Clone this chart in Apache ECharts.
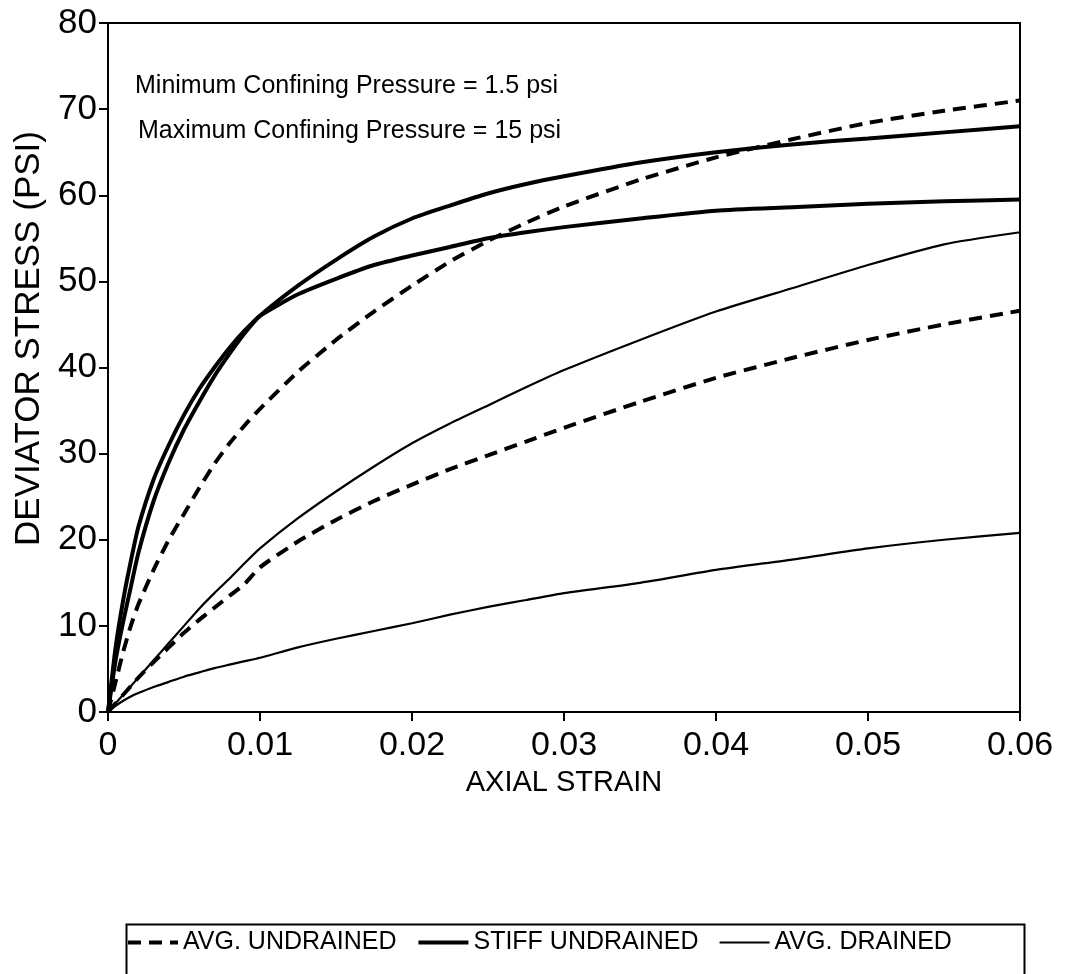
<!DOCTYPE html>
<html>
<head>
<meta charset="utf-8">
<script src="https://cdn.jsdelivr.net/npm/echarts@6/dist/echarts.min.js"></script>
<style>
  html, body { margin: 0; padding: 0; background: #fff; }
  #chart { width: 1067px; height: 974px; }
</style>
</head>
<body>
<div id="chart"></div>
<script>
// axial strain, shared by every curve
var strain = [0, 0.0005, 0.001, 0.0015, 0.002, 0.003, 0.004, 0.005, 0.006, 0.007, 0.008, 0.009, 0.01,
  0.0125, 0.015, 0.0175, 0.02, 0.0225, 0.025, 0.0275, 0.03, 0.035, 0.04, 0.045, 0.05, 0.055, 0.06];

// deviator stress (psi)
var avgUndrainedHigh = [0, 3.5, 7, 10, 12.5, 16.5, 20, 23, 26, 28.8, 31.2, 33.3, 35.2,
  39.5, 43.2, 46.5, 49.5, 52.3, 54.7, 56.8, 58.7, 61.8, 64.4, 66.5, 68.4, 69.8, 71];
var avgUndrainedLow = [0, 1, 2, 3, 4, 5.8, 7.5, 9.2, 10.7, 12.1, 13.5, 14.9, 16.8,
  19.8, 22.3, 24.5, 26.4, 28.2, 29.8, 31.4, 33, 36, 38.8, 41.1, 43.2, 45, 46.6];
var stiffUndrainedA = [0, 7.5, 13, 17.5, 21.5, 27, 31, 34.5, 37.5, 40, 42.3, 44.3, 46,
  48.5, 50.3, 51.9, 53, 54, 55, 55.7, 56.3, 57.3, 58.2, 58.6, 59, 59.3, 59.5];
var stiffUndrainedB = [0, 6, 10.5, 14.5, 18.5, 24.5, 29, 32.8, 36, 39, 41.6, 44, 46,
  49.5, 52.5, 55.2, 57.3, 58.8, 60.2, 61.3, 62.2, 63.8, 65, 65.9, 66.6, 67.3, 68];
var avgDrainedHigh = [0, 1, 2, 3, 4, 6, 8, 10, 12, 13.8, 15.5, 17.3, 19,
  22.5, 25.6, 28.5, 31.2, 33.5, 35.6, 37.7, 39.7, 43.2, 46.5, 49.2, 51.9, 54.3, 55.7];
var avgDrainedLow = [0, 0.7, 1.3, 1.8, 2.2, 2.9, 3.5, 4.1, 4.6, 5.1, 5.5, 5.9, 6.3,
  7.5, 8.5, 9.4, 10.3, 11.3, 12.2, 13, 13.8, 15, 16.5, 17.7, 19, 20, 20.8];

var legendNames = ['AVG. UNDRAINED', 'STIFF UNDRAINED', 'AVG. DRAINED'];
var notes = ['Minimum Confining Pressure = 1.5 psi', 'Maximum Confining Pressure = 15 psi'];

var FONT = '"Liberation Sans", Arial, Helvetica, sans-serif';

// pair strain with a stress list
var pts = function(ys) {
  return strain.map(function(x, i) { return [x, ys[i]]; });
};

var makeSeries = function(name, ys, width, dashed) {
  return {
    name: name,
    type: 'line',
    data: pts(ys),
    smooth: 0.2,
    symbol: 'none',
    silent: true,
    lineStyle: { color: '#000', width: width, type: dashed ? [13, 8] : 'solid', cap: 'butt' },
    itemStyle: { color: '#000' }
  };
};

var chart = echarts.init(document.getElementById('chart'), null, { renderer: 'canvas' });

var option = {
  backgroundColor: '#fff',
  animation: false,
  textStyle: { fontFamily: FONT, color: '#000' },
  grid: {
    left: 108, right: 47, top: 23, bottom: 262,
    outerBoundsMode: 'none',
    containLabel: false,
    show: true, borderColor: '#000', borderWidth: 2
  },
  xAxis: {
    type: 'value',
    min: 0, max: 0.06, interval: 0.01,
    name: 'AXIAL STRAIN',
    nameLocation: 'middle',
    nameGap: 56,
    nameTextStyle: { fontFamily: FONT, fontSize: 29, color: '#000' },
    axisLine: { show: true, lineStyle: { color: '#000', width: 2 } },
    axisTick: { show: true, inside: false, length: 9, lineStyle: { color: '#000', width: 2 } },
    axisLabel: {
      fontFamily: FONT, fontSize: 34, color: '#000', margin: 17,
      formatter: function(v) { return v === 0 ? '0' : v.toFixed(2); }
    },
    splitLine: { show: false }
  },
  yAxis: {
    type: 'value',
    min: 0, max: 80, interval: 10,
    name: 'DEVIATOR STRESS (PSI)',
    nameLocation: 'middle',
    nameGap: 60,
    nameTextStyle: { fontFamily: FONT, fontSize: 35, color: '#000', padding: [0, 0, 0, 58] },
    axisLine: { show: true, lineStyle: { color: '#000', width: 2 } },
    axisTick: { show: true, inside: false, length: 9, lineStyle: { color: '#000', width: 2 } },
    axisLabel: { fontFamily: FONT, fontSize: 35, color: '#000', margin: 11 },
    splitLine: { show: false }
  },
  legend: {
    data: legendNames,
    left: 121, top: 925,
    itemWidth: 50, itemHeight: 14,
    itemGap: 20,
    itemStyle: { color: 'rgba(0,0,0,0)', borderWidth: 0, opacity: 0 },
    lineStyle: { width: 'inherit' },
    textStyle: { fontFamily: FONT, fontSize: 25, color: '#000' },
    inactiveColor: '#000'
  },
  graphic: [
    {
      type: 'rect', left: 124, top: 922, silent: true,
      shape: { width: 898, height: 90 },
      style: { fill: 'none', stroke: '#000', lineWidth: 2 }
    },
    {
      type: 'text', left: 135, top: 74, silent: true,
      style: { text: notes[0], font: '25px ' + FONT, fill: '#000' }
    },
    {
      type: 'text', left: 138, top: 119, silent: true,
      style: { text: notes[1], font: '25px ' + FONT, fill: '#000' }
    }
  ],
  series: [
    makeSeries(legendNames[0], avgUndrainedHigh, 4, true),
    makeSeries(legendNames[0], avgUndrainedLow, 4, true),
    makeSeries(legendNames[1], stiffUndrainedA, 4, false),
    makeSeries(legendNames[1], stiffUndrainedB, 4, false),
    makeSeries(legendNames[2], avgDrainedHigh, 2.2, false),
    makeSeries(legendNames[2], avgDrainedLow, 2.2, false)
  ]
};

chart.setOption(option);
</script>
</body>
</html>
